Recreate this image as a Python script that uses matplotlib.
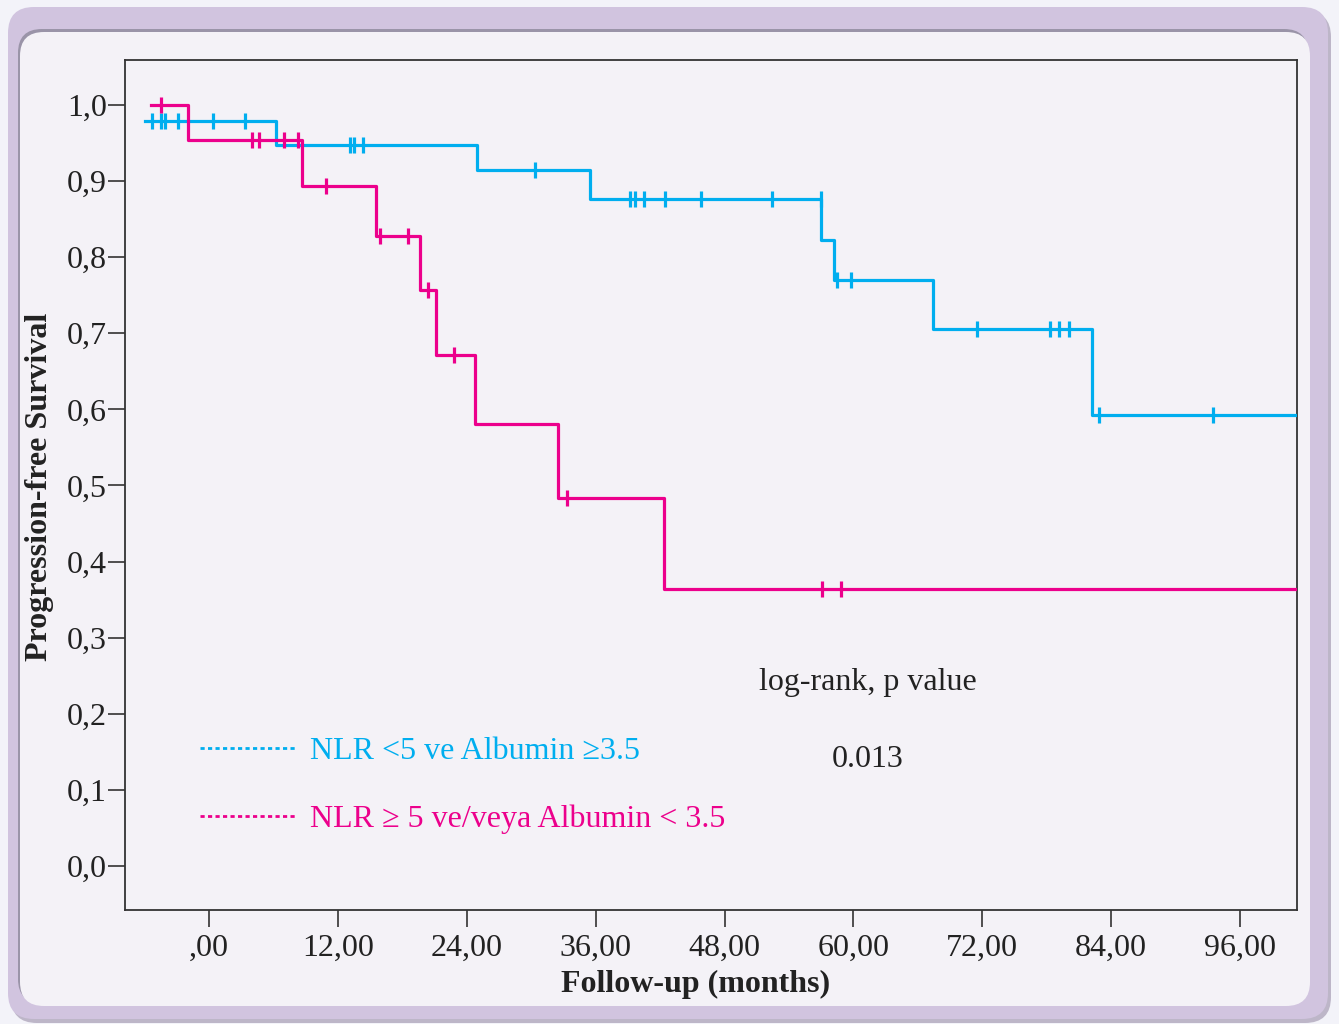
import matplotlib
matplotlib.use("Agg")
import numpy as np
import matplotlib.pyplot as plt
from matplotlib.patches import FancyBboxPatch
from matplotlib.lines import Line2D

# ---------------- data ----------------
blue_times = [-5.96, 6.21, 24.98, 35.47, 57.01, 58.17, 67.38, 82.19, 101.3]
blue_surv = [0.979, 0.947, 0.914, 0.876, 0.823, 0.770, 0.705, 0.592, 0.592]
blue_censor = [-5.28, -4.47, -4.10, -2.86, 0.40, 3.38, 13.16, 13.50, 14.37,
               30.38, 39.23, 39.69, 40.53, 42.49, 45.84, 52.45, 56.98,
               58.50, 59.80, 71.54, 78.31, 79.17, 80.10, 82.90, 93.51]

pink_times = [-5.40, -1.98, 8.69, 15.58, 19.65, 21.16, 24.77, 32.47, 42.39, 101.3]
pink_surv = [1.0, 0.954, 0.894, 0.828, 0.757, 0.672, 0.581, 0.484, 0.364, 0.364]
pink_censor = [-4.47, 4.03, 4.68, 7.01, 8.31, 10.92, 15.95, 18.56, 20.42,
               22.84, 33.36, 57.10, 58.87]

x_ticks = [0, 12, 24, 36, 48, 60, 72, 84, 96]
x_ticklabels = [",00", "12,00", "24,00", "36,00", "48,00", "60,00", "72,00", "84,00", "96,00"]
y_ticks = [0.0, 0.1, 0.2, 0.3, 0.4, 0.5, 0.6, 0.7, 0.8, 0.9, 1.0]
y_ticklabels = ["0,0", "0,1", "0,2", "0,3", "0,4", "0,5", "0,6", "0,7", "0,8", "0,9", "1,0"]

label_blue = "NLR <5 ve Albumin \u22653.5"
label_pink = "NLR \u2265 5 ve/veya Albumin < 3.5"

BLUE = "#00aeef"
PINK = "#ec008c"
FS = 23

plt.rcParams['font.family'] = ['Liberation Serif', 'DejaVu Serif']

W, H = 1339, 1024
fig = plt.figure(figsize=(W / 100, H / 100), dpi=100)
fig.patch.set_facecolor("#f3f3f9")

# background decoration (pixel coordinates)
bg = fig.add_axes([0, 0, 1, 1], zorder=0)
bg.set_xlim(0, W)
bg.set_ylim(H, 0)
bg.axis("off")
shadow = FancyBboxPatch((11, 11), 1320, 1012, boxstyle="round,pad=0,rounding_size=26",
                        fc="#bdb6c8", ec="none")
bg.add_patch(shadow)
outer = FancyBboxPatch((8, 7), 1320, 1012, boxstyle="round,pad=0,rounding_size=26",
                       fc="#d1c4df", ec="none")
bg.add_patch(outer)
inner_sh = FancyBboxPatch((18, 29), 1290, 974, boxstyle="round,pad=0,rounding_size=24",
                          fc="#9a94a8", ec="none")
bg.add_patch(inner_sh)
inner = FancyBboxPatch((20, 32), 1290, 974, boxstyle="round,pad=0,rounding_size=24",
                       fc="#f4f2f7", ec="none")
bg.add_patch(inner)

# main axes
ax = fig.add_axes([125 / W, 1 - 910 / H, (1297 - 125) / W, (910 - 60) / H], zorder=1)
ax.set_facecolor("#f4f2f7")

def level_at(times, surv, t):
    idx = np.searchsorted(np.array(times), t, side="right") - 1
    return np.array(surv)[idx]

ax.step(blue_times, blue_surv, where="post", color=BLUE, lw=2.3, zorder=3)
ax.plot(blue_censor, level_at(blue_times, blue_surv, blue_censor), ls="none",
        marker="|", ms=12, mew=2.3, color=BLUE, zorder=4)
ax.step(pink_times, pink_surv, where="post", color=PINK, lw=2.3, zorder=3)
ax.plot(pink_censor, level_at(pink_times, pink_surv, pink_censor), ls="none",
        marker="|", ms=12, mew=2.3, color=PINK, zorder=4)

ax.set_xlim(-7.82, 101.3)
ax.set_ylim(-0.0578, 1.059)
ax.set_xticks(x_ticks)
ax.set_xticklabels(x_ticklabels)
ax.set_yticks(y_ticks)
ax.set_yticklabels(y_ticklabels)
ax.tick_params(axis="both", direction="out", length=12, width=1.2, color="#333333",
               labelsize=FS, labelcolor="#222222", pad=1)
ax.tick_params(axis="x", pad=5)
for sp in ax.spines.values():
    sp.set_color("#333333")
    sp.set_linewidth(1.3)

ax.set_xlabel("Follow-up (months)", fontsize=FS, fontweight="bold", color="#222222")
ax.set_ylabel("Progression-free Survival", fontsize=FS, fontweight="bold", color="#222222")
ax.xaxis.set_label_coords((696 - 125) / 1172, (910 - 970) / 850)
ax.yaxis.set_label_coords((54 - 125) / 1172, (910 - 487) / 850)

ax.text(61.36, 0.2405, "log-rank, p value", ha="center", va="center", fontsize=FS, color="#222222")
ax.text(61.36, 0.1393, "0.013", ha="center", va="center", fontsize=FS, color="#222222")

handles = [Line2D([], [], color=BLUE, lw=2.0, ls=(0, (1.5, 1.2))),
           Line2D([], [], color=PINK, lw=2.0, ls=(0, (1.5, 1.2)))]
leg = ax.legend(handles, [label_blue, label_pink], loc="upper left",
                bbox_to_anchor=((200 - 125) / 1172, (910 - 737) / 850),
                frameon=False, fontsize=FS, handlelength=3.0, handletextpad=0.45,
                labelspacing=1.2, borderpad=0, borderaxespad=0, labelcolor="linecolor")

fig.savefig("out.png", dpi=100, facecolor=fig.get_facecolor())
